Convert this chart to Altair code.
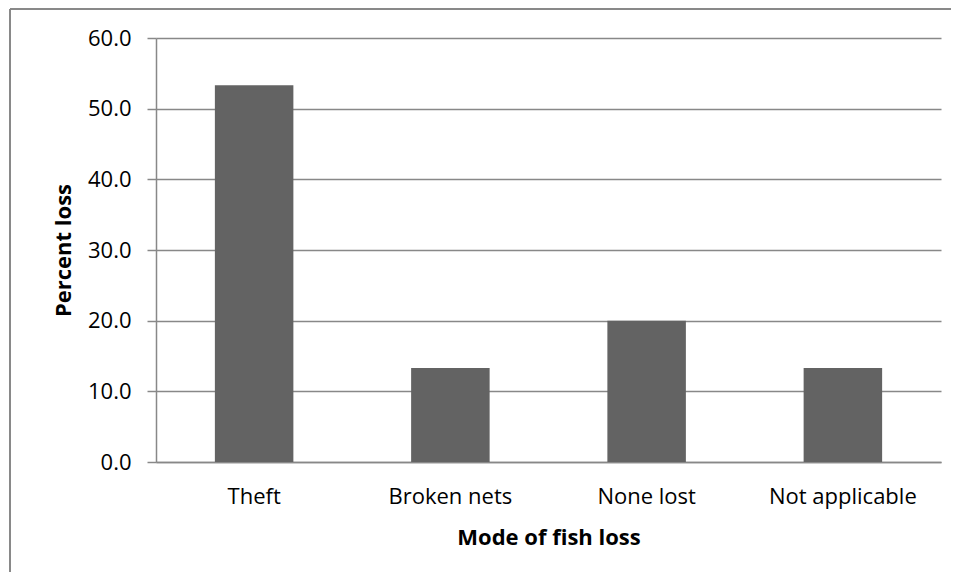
import altair as alt
import pandas as pd

categories = ["Theft", "Broken nets", "None lost", "Not applicable"]
values = [53.3, 13.3, 20.0, 13.3]

df = pd.DataFrame({"mode": categories, "loss": values})

FONT = "Open Sans"
W, H = 785, 424

bars = alt.Chart(df).mark_bar(color="#636363").encode(
    x=alt.X("mode:N", sort=categories,
            scale=alt.Scale(paddingInner=0.6, paddingOuter=0.3),
            axis=alt.Axis(title="Mode of fish loss", labelAngle=0, ticks=False,
                          labelPadding=24, titlePadding=20, labelFontSize=22,
                          titleFontSize=22, domainColor="#888888", domainWidth=1.5,
                          labelColor="#000000", titleColor="#000000",
                          labelFont=FONT, titleFont=FONT, titleFontWeight="bold",
                          grid=False)),
    y=alt.Y("loss:Q", scale=alt.Scale(domain=[0, 60]),
            axis=alt.Axis(title="Percent loss", values=[0, 10, 20, 30, 40, 50, 60],
                          format=".1f", tickSize=9, tickColor="#888888", tickWidth=1.5,
                          labelPadding=16, titlePadding=12, labelFontSize=22,
                          titleFontSize=22, domainColor="#888888", domainWidth=1.5,
                          gridColor="#888888", gridWidth=1.5,
                          labelColor="#000000", titleColor="#000000",
                          labelFont=FONT, titleFont=FONT, titleFontWeight="bold")),
)

top_line = alt.Chart(df).mark_rule(stroke="#888888", strokeWidth=1.5).encode(
    x=alt.value(-146), x2=alt.value(900), y=alt.value(-29)
)
left_line = alt.Chart(df).mark_rule(stroke="#888888", strokeWidth=1.5).encode(
    x=alt.value(-146), y=alt.value(-29), y2=alt.value(700)
)

chart = alt.layer(top_line, left_line, bars).properties(
    width=W, height=H,
    autosize=alt.AutoSizeParams(type="none"),
    padding={"left": 148, "top": 30, "right": 10, "bottom": 110},
).configure_view(stroke=None)

chart.save("out.html", embed_options={"renderer": "svg", "actions": False})
